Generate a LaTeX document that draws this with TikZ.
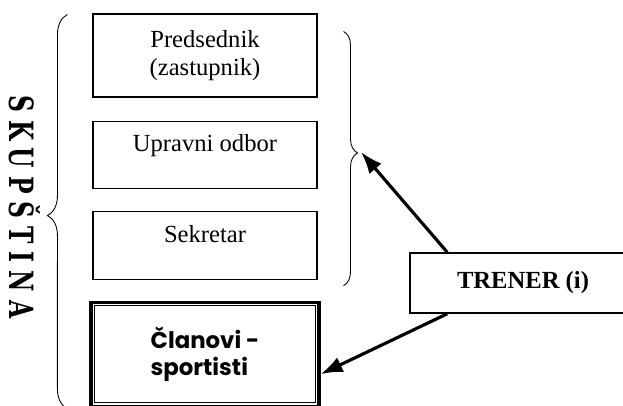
\documentclass[tikz,border=0pt]{standalone}
\usepackage{fontspec}
\setmainfont{Liberation Serif}
\newfontfamily\roundfont{Poppins}
\newfontfamily\slabfont{DejaVu Serif}
\usetikzlibrary{arrows.meta,positioning,decorations.pathreplacing}
\tikzset{
  unit/.style={draw=black,fill=white,line width=.6pt,minimum width=4.48cm,align=center,font=\fontsize{14}{16}\selectfont},
  raised/.style={text depth=.45cm},
  members/.style={draw=black,fill=white,line width=1.8pt,minimum width=4.56cm,minimum height=2.08cm,align=left,font=\roundfont\bfseries\fontsize{13}{15.5}\selectfont},
  coach/.style={draw=black,fill=white,line width=.9pt,minimum width=4.52cm,minimum height=1.2cm,align=center,font=\bfseries\fontsize{14}{16}\selectfont},
  assembly/.style={rotate=-90,font=\slabfont\bfseries\fontsize{19}{19}\selectfont},
  link/.style={-{Latex[length=4.4mm,width=3.2mm]},line width=1.8pt},
  curly/.style={decorate,line width=.5pt}
}
\begin{document}
\begin{tikzpicture}[node distance=.46cm]
  \useasboundingbox (0,0) rectangle (12.46,-8.12);
  \node[unit,minimum height=1.66cm] at (4.10,-1.11) (pred) {Predsednik\\(zastupnik)};
  \node[unit,raised,minimum height=1.34cm,below=of pred] (odbor) {Upravni odbor};
  \node[unit,raised,minimum height=1.36cm,below=.44cm of odbor] (sek) {Sekretar};
  \node[members,below=.42cm of sek] (mem) {\v{C}lanovi -\\sportisti};
  \draw[line width=.5pt] ([shift={(.1cm,.1cm)}]mem.south west) rectangle ([shift={(-.1cm,-.1cm)}]mem.north east);
  \node[coach] at (10.46,-5.66) (trn) {TRENER (i)};
  \node[assembly] at (.5,-4.14) (skup) {\addfontfeature{LetterSpace=34}\scalebox{.7}[1]{SKUPŠTINA}};
  % braces round the board and round the whole assembly
  \draw[curly,decoration={brace,amplitude=.28cm,aspect=.478}]
    ([xshift=.52cm,yshift=-.36cm]pred.north east) -- ([xshift=.52cm,yshift=-.12cm]sek.south east);
  \draw[curly,decoration={brace,amplitude=.4cm,aspect=.49}]
    ([xshift=-.44cm,yshift=-.02cm]mem.south west) -- ([xshift=-.5cm,yshift=-.02cm]pred.north west);
  \coordinate (rtip) at (7.22,-3.04);
  \draw[link] ([xshift=.76cm]trn.north west) -- (rtip);
  \draw[link] ([xshift=.76cm]trn.south west) -- ([yshift=-.4cm]mem.east);
\end{tikzpicture}
\end{document}
